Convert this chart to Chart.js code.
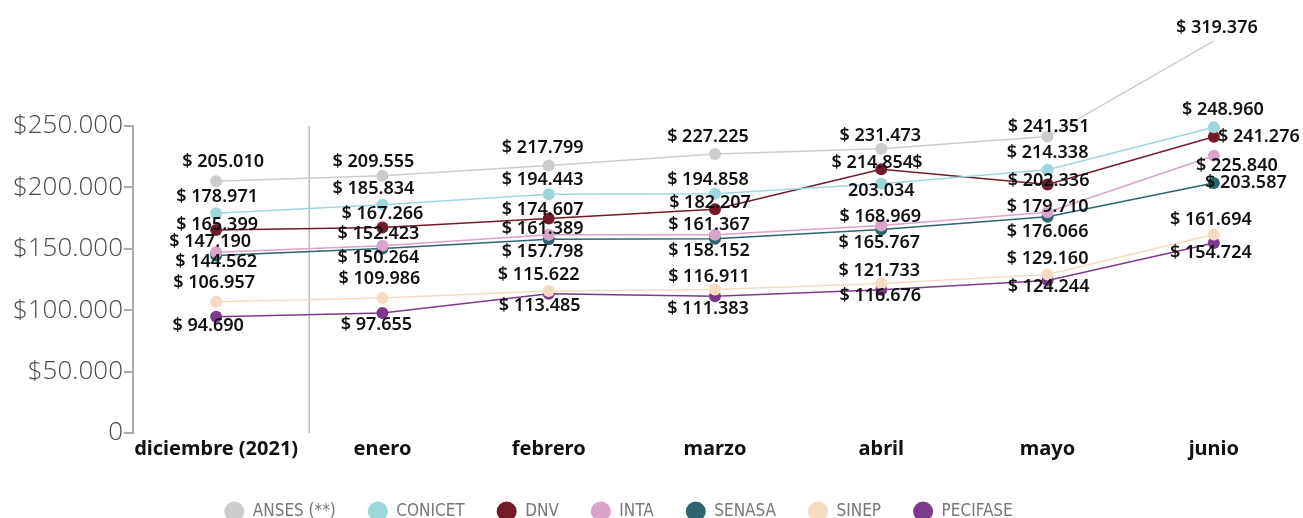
<!DOCTYPE html>
<html>
<head>
<meta charset="utf-8">
<script src="https://cdn.jsdelivr.net/npm/chart.js@4.4.0/dist/chart.umd.min.js"></script>
<style>
html,body{margin:0;padding:0;background:#fff;overflow:hidden}
#wrap{width:1303px;height:530px;position:relative}
</style>
</head>
<body>
<div id="wrap"><canvas id="c"></canvas></div>
<script>
// ---- DATA ----
const categories = ['diciembre (2021)', 'enero', 'febrero', 'marzo', 'abril', 'mayo', 'junio'];
const seriesNames = ['ANSES (**)', 'CONICET', 'DNV', 'INTA', 'SENASA', 'SINEP', 'PECIFASE'];
const anses    = [205010, 209555, 217799, 227225, 231473, 241351, 319376];
const conicet  = [178971, 185834, 194443, 194858, 203034, 214338, 248960];
const dnv      = [165399, 167266, 174607, 182207, 214854, 202336, 241276];
const inta     = [147190, 152423, 161389, 161367, 168969, 179710, 225840];
const senasa   = [144562, 150264, 157798, 158152, 165767, 176066, 203587];
const sinep    = [106957, 109986, 115622, 116911, 121733, 129160, 161694];
const pecifase = [94690, 97655, 113485, 111383, 116676, 124244, 154724];
const yTickValues = [0, 50000, 100000, 150000, 200000, 250000];

// ---- STYLE ----
const colors = ['#cccccc', '#9fd6dc', '#741b2b', '#d9a3cb', '#2c6470', '#f5dbc2', '#7c3a8b'];
// label offsets (px) relative to each point, per series
const labelDX = [
  [7, -9, -6, -7, -1, 1, 3],
  [1, -9, -6, -7, 0, 0, 9],
  [1, 0, -6, -5, -9, 1, 45],
  [-6, -4, -6, -6, -1, 0, 23],
  [0, -4, -6, -6, -2, 0, 32],
  [-2, -3, -10, -6, -2, 0, -3],
  [-8, -6, -9, -7, -1, 1, -3]
];
const labelDY = [
  [-19, -14, -18, -17, -13, -10, -13],
  [-16, -16, -14, -14, 7, -17, -17],
  [-5, -14, -9, -6, -6, -4, 0],
  [-10, -12, -6, -10, -9, -5, 10],
  [6, 9, 13, 12, 13, 15, 0],
  [-19, -19, -16, -13, -13, -16, -15],
  [9, 12, 12, 13, 6, 6, 10]
];
// labels that wrap: currency sign placed apart from the number
const splitLabels = { '1-4': { signDX: 36, signDY: -21 } };
const legendShiftLeft = 76; // shifts the centred legend row left

function fmtNum(v) {
  return String(v).replace(/\B(?=(\d{3})+(?!\d))/g, '.');
}

const seriesValues = [anses, conicet, dnv, inta, senasa, sinep, pecifase];

const datasets = seriesNames.map((name, i) => ({
  label: name,
  data: seriesValues[i],
  borderColor: colors[i],
  backgroundColor: colors[i],
  pointBackgroundColor: colors[i],
  pointBorderColor: colors[i],
  borderWidth: 1.5,
  pointRadius: 6,
  pointBorderWidth: 0,
  pointHoverRadius: 6,
  tension: 0,
  clip: false
}));

const separatorPlugin = {
  id: 'separator',
  afterLayout(chart) {
    if (chart.legend) chart.legend.right -= legendShiftLeft;
  },
  beforeDatasetsDraw(chart) {
    const x = chart.scales.x;
    const area = chart.chartArea;
    const px = (x.getPixelForValue(0) + x.getPixelForValue(1)) / 2 + 10;
    const ctx = chart.ctx;
    ctx.save();
    ctx.strokeStyle = '#bdbdbd';
    ctx.lineWidth = 1.5;
    ctx.beginPath();
    ctx.moveTo(px, area.top);
    ctx.lineTo(px, area.bottom);
    ctx.stroke();
    ctx.restore();
  }
};

const labelPlugin = {
  id: 'valueLabels',
  afterDatasetsDraw(chart) {
    const ctx = chart.ctx;
    ctx.save();
    ctx.font = '600 18px "Noto Sans", sans-serif';
    ctx.fillStyle = '#111111';
    ctx.textAlign = 'center';
    ctx.textBaseline = 'middle';
    chart.data.datasets.forEach((ds, i) => {
      const meta = chart.getDatasetMeta(i);
      meta.data.forEach((pt, j) => {
        const num = fmtNum(ds.data[j]);
        const key = i + '-' + j;
        const x = pt.x + labelDX[i][j];
        const y = pt.y + labelDY[i][j];
        if (splitLabels[key]) {
          const s = splitLabels[key];
          ctx.fillText('$', pt.x + s.signDX, pt.y + s.signDY);
          ctx.fillText(num, x, y);
        } else {
          ctx.fillText('$ ' + num, x, y);
        }
      });
    });
    ctx.restore();
  }
};

new Chart(document.getElementById('c'), {
  type: 'line',
  data: { labels: categories, datasets },
  plugins: [separatorPlugin, labelPlugin],
  options: {
    responsive: true,
    maintainAspectRatio: false,
    animation: false,
    events: [],
    layout: { padding: { top: 126, left: 10, right: 0, bottom: 0 } },
    plugins: {
      tooltip: { enabled: false },
      legend: {
        position: 'bottom',
        labels: {
          usePointStyle: true,
          pointStyle: 'circle',
          pointStyleWidth: 20,
          boxHeight: 14,
          padding: 32,
          color: '#777777',
          font: { family: '"Liberation Sans Narrow", "DejaVu Sans Condensed", sans-serif', size: 17 }
        }
      }
    },
    scales: {
      x: {
        offset: true,
        grid: { display: false, drawTicks: false },
        border: { display: false },
        ticks: {
          padding: 4,
          color: '#111111',
          font: { family: '"Noto Sans", sans-serif', size: 20, weight: 'bold' },
          maxRotation: 0,
          autoSkip: false
        },
        afterFit(s) { s.height = 38; }
      },
      y: {
        min: 0,
        max: 250000,
        afterBuildTicks(s) { s.ticks = yTickValues.map(v => ({ value: v })); },
        grid: { drawOnChartArea: false, drawTicks: true, tickLength: 9, color: '#aaaaaa', lineWidth: 2 },
        border: { display: true, color: '#aaaaaa', width: 2 },
        ticks: {
          padding: 1,
          color: '#4a4a4a',
          font: { family: '"Open Sans", sans-serif', size: 26, weight: 300 },
          callback: v => v === 0 ? '0' : '$' + fmtNum(v)
        },
        afterFit(s) { s.width = 123; }
      }
    }
  }
});
</script>
</body>
</html>
